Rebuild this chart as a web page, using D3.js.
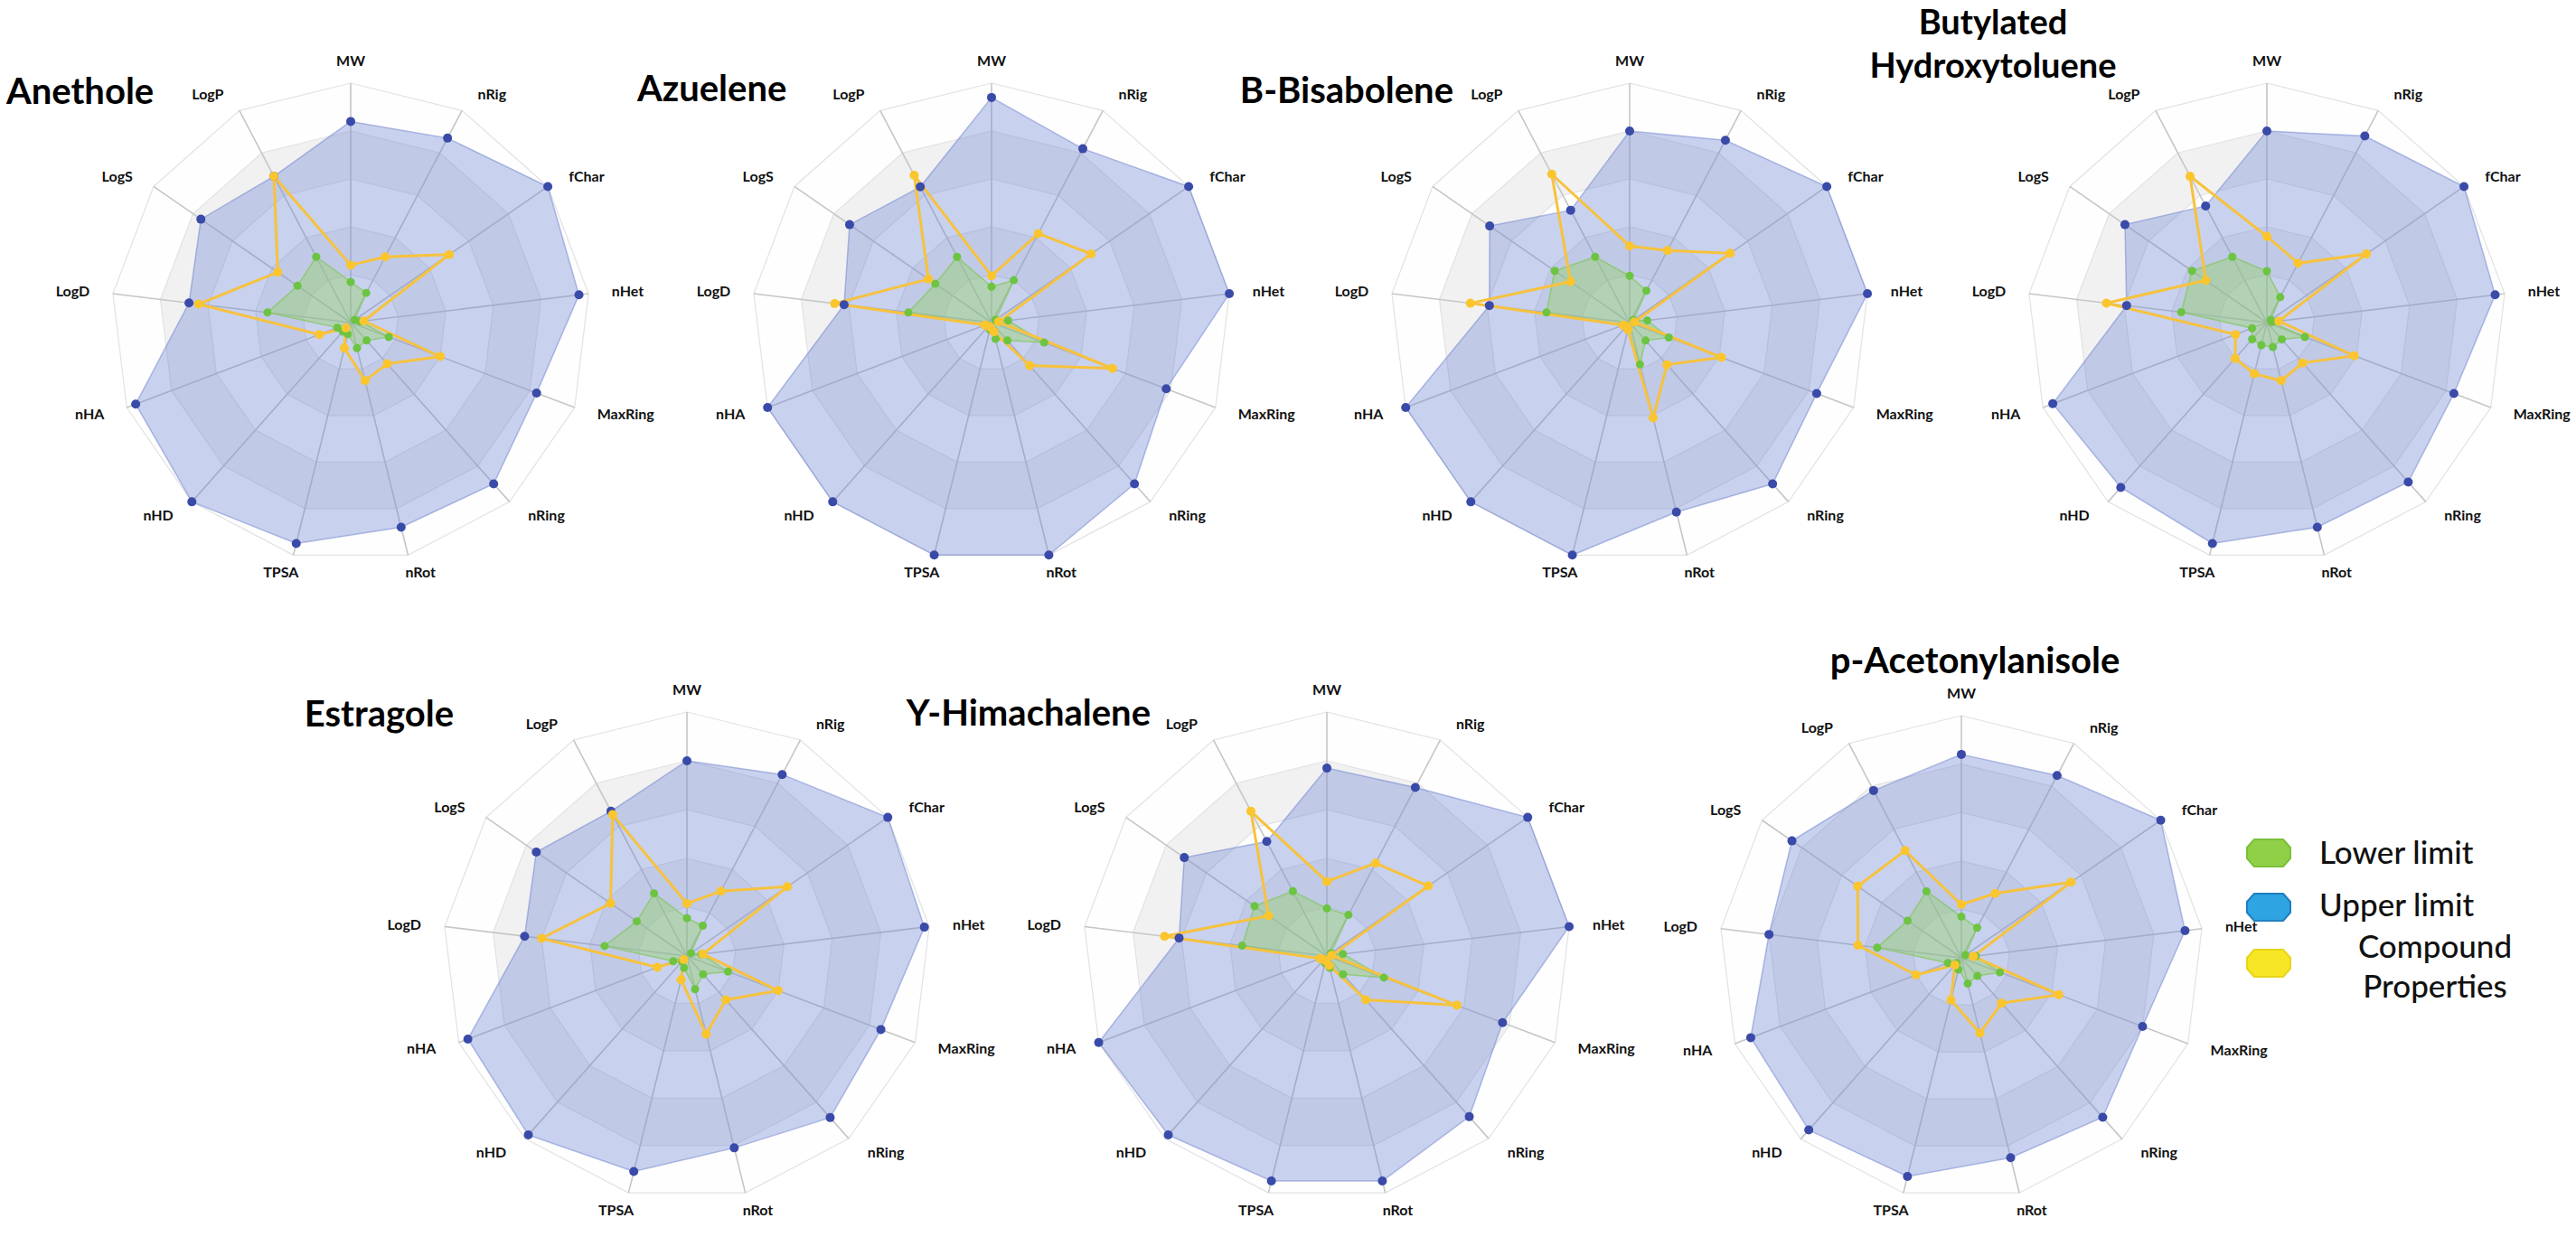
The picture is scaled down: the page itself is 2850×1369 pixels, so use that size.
<!DOCTYPE html>
<html>
<head>
<meta charset="utf-8">
<script src="https://cdn.jsdelivr.net/npm/d3@7"></script>
<style>
  body { margin: 0; background: #fff; }
  svg { display: block; }
</style>
</head>
<body>
<div id="chart"></div>
<script>
'use strict';

// radar axes, clockwise from the top
const axes = ['MW', 'nRig', 'fChar', 'nHet', 'MaxRing', 'nRing', 'nRot',
              'TPSA', 'nHD', 'nHA', 'LogD', 'LogS', 'LogP'];

// values, as a fraction of the outer ring
const anetholeUpper    = [0.84, 0.87, 1.00, 0.96, 0.83, 0.90, 0.88, 0.95, 1.00, 0.96, 0.68, 0.76, 0.69];
const anetholeLower    = [0.17, 0.14, 0.02, 0.04, 0.17, 0.10, 0.11, 0.05, 0.05, 0.06, 0.35, 0.27, 0.31];
const anetholeCompound = [0.24, 0.31, 0.50, 0.055, 0.40, 0.23, 0.25, 0.11, 0.03, 0.14, 0.64, 0.37, 0.69];

const azueleneUpper    = [0.94, 0.82, 1.00, 1.00, 0.78, 0.90, 1.00, 1.00, 1.00, 1.00, 0.62, 0.72, 0.64];
const azueleneLower    = [0.15, 0.20, 0.02, 0.07, 0.235, 0.10, 0.07, 0.03, 0.02, 0.03, 0.35, 0.285, 0.31];
const azueleneCompound = [0.195, 0.42, 0.505, 0.03, 0.54, 0.24, 0.04, 0.02, 0.02, 0.03, 0.66, 0.32, 0.695];

const bisaboleneUpper    = [0.80, 0.86, 1.00, 1.00, 0.835, 0.90, 0.815, 1.00, 1.00, 1.00, 0.59, 0.71, 0.53];
const bisaboleneLower    = [0.195, 0.15, 0.02, 0.074, 0.175, 0.10, 0.18, 0.03, 0.02, 0.03, 0.35, 0.38, 0.31];
const bisaboleneCompound = [0.32, 0.34, 0.51, 0.02, 0.41, 0.235, 0.41, 0.03, 0.02, 0.03, 0.67, 0.30, 0.70];

const bhtUpper    = [0.80, 0.88, 1.00, 0.96, 0.835, 0.89, 0.88, 0.95, 0.92, 0.956, 0.59, 0.72, 0.55];
const bhtLower    = [0.215, 0.12, 0.02, 0.02, 0.17, 0.094, 0.105, 0.097, 0.093, 0.066, 0.36, 0.38, 0.31];
const bhtCompound = [0.36, 0.28, 0.505, 0.05, 0.39, 0.225, 0.25, 0.22, 0.20, 0.14, 0.675, 0.31, 0.69];

const estragoleUpper    = [0.80, 0.84, 1.00, 0.98, 0.85, 0.885, 0.81, 0.91, 0.98, 0.96, 0.67, 0.75, 0.67];
const estragoleLower    = [0.155, 0.14, 0.02, 0.06, 0.18, 0.10, 0.14, 0.05, 0.03, 0.06, 0.34, 0.25, 0.29];
const estragoleCompound = [0.215, 0.30, 0.50, 0.066, 0.40, 0.24, 0.33, 0.10, 0.02, 0.13, 0.60, 0.38, 0.655];

const himachaleneUpper    = [0.77, 0.78, 1.00, 1.00, 0.77, 0.88, 0.95, 0.95, 0.98, 1.00, 0.61, 0.71, 0.53];
const himachaleneLower    = [0.195, 0.19, 0.02, 0.066, 0.25, 0.10, 0.05, 0.03, 0.02, 0.03, 0.35, 0.36, 0.30];
const himachaleneCompound = [0.305, 0.43, 0.505, 0.02, 0.57, 0.24, 0.04, 0.02, 0.02, 0.03, 0.67, 0.29, 0.67];

const acetonylanisoleUpper    = [0.84, 0.85, 1.00, 0.93, 0.80, 0.88, 0.85, 0.93, 0.95, 0.93, 0.80, 0.85, 0.78];
const acetonylanisoleLower    = [0.17, 0.14, 0.02, 0.06, 0.17, 0.10, 0.11, 0.05, 0.03, 0.06, 0.35, 0.27, 0.31];
const acetonylanisoleCompound = [0.22, 0.30, 0.55, 0.05, 0.43, 0.25, 0.32, 0.18, 0.04, 0.20, 0.43, 0.52, 0.50];

const titles = [
    ['Anethole'], ['Azuelene'], ['B-Bisabolene'], ['Butylated', 'Hydroxytoluene'],
    ['Estragole'], ['Y-Himachalene'], ['p-Acetonylanisole']
];

const legendLabels = [['Lower limit'], ['Upper limit'], ['Compound', 'Properties']];

const series = [
    [anetholeUpper, anetholeLower, anetholeCompound],
    [azueleneUpper, azueleneLower, azueleneCompound],
    [bisaboleneUpper, bisaboleneLower, bisaboleneCompound],
    [bhtUpper, bhtLower, bhtCompound],
    [estragoleUpper, estragoleLower, estragoleCompound],
    [himachaleneUpper, himachaleneLower, himachaleneCompound],
    [acetonylanisoleUpper, acetonylanisoleLower, acetonylanisoleCompound]
];

// where each radar sits and where its title goes
const layout = [
    {cx: 388,  cy: 357,  r: 265, tx: 7,    ty: [115],    anchor: 'start'},
    {cx: 1097, cy: 357,  r: 265, tx: 705,  ty: [112],    anchor: 'start'},
    {cx: 1803, cy: 357,  r: 265, tx: 1608, ty: [114],    anchor: 'end'},
    {cx: 2508, cy: 357,  r: 265, tx: 2205, ty: [38, 86], anchor: 'middle'},
    {cx: 760,  cy: 1058, r: 270, tx: 502,  ty: [804],    anchor: 'end'},
    {cx: 1468, cy: 1058, r: 270, tx: 1273, ty: [803],    anchor: 'end'},
    {cx: 2170, cy: 1060, r: 268, tx: 2185, ty: [745],    anchor: 'middle'}
];

const W = 2850, H = 1369;
const step = 2 * Math.PI / axes.length;

const svg = d3.select('#chart').append('svg')
    .attr('width', W)
    .attr('height', H);

svg.append('rect').attr('width', W).attr('height', H).attr('fill', '#fff');


function drawRadar(g, data, pos) {
    const rScale = d3.scaleLinear().domain([0, 1]).range([0, pos.r]);
    const ring = d3.lineRadial()
        .angle((v, i) => i * step)
        .radius(v => rScale(v))
        .curve(d3.curveLinearClosed);
    const px = (v, i) => rScale(v) * Math.sin(i * step);
    const py = (v, i) => -rScale(v) * Math.cos(i * step);

    // split areas, outside first
    const levels = [1, 0.8, 0.6, 0.4, 0.2];
    g.selectAll('path.band').data(levels).join('path')
        .attr('class', 'band')
        .attr('d', v => ring(axes.map(() => v)))
        .attr('fill', (v, i) => i % 2 === 0 ? '#fefefe' : '#f1f1f2')
        .attr('stroke', '#e2e2e4')
        .attr('stroke-width', 1.2);

    g.selectAll('line.axis').data(axes).join('line')
        .attr('class', 'axis')
        .attr('x1', 0).attr('y1', 0)
        .attr('x2', (a, i) => px(1, i))
        .attr('y2', (a, i) => py(1, i))
        .attr('stroke', '#c6c6c6')
        .attr('stroke-width', 1.6);

    const [upper, lower, compound] = data;

    g.append('path')
        .attr('d', ring(upper))
        .attr('fill', 'rgba(100,125,210,0.35)')
        .attr('stroke', 'rgba(110,130,205,0.5)')
        .attr('stroke-width', 1.5);

    g.append('path')
        .attr('d', ring(lower))
        .attr('fill', 'rgba(150,208,110,0.45)')
        .attr('stroke', 'rgba(130,200,90,0.7)')
        .attr('stroke-width', 1.5);

    g.append('path')
        .attr('d', ring(compound))
        .attr('fill', 'none')
        .attr('stroke', '#f7c23c')
        .attr('stroke-width', 3);

    const dots = [
        {vals: upper, color: '#3a4aa8', r: 5},
        {vals: lower, color: '#6cc441', r: 4.5},
        {vals: compound, color: '#fbc52e', r: 5}
    ];
    dots.forEach(s => {
        g.append('g').selectAll('circle').data(s.vals).join('circle')
            .attr('cx', px)
            .attr('cy', py)
            .attr('r', s.r)
            .attr('fill', s.color);
    });

    // axis names
    g.selectAll('text.name').data(axes).join('text')
        .attr('class', 'name')
        .attr('x', (a, i) => {
            const s = Math.sin(i * step);
            const side = Math.abs(s) < 0.05 ? 0 : Math.sign(s);
            return rScale(1.06) * s + side * 10;
        })
        .attr('y', (a, i) => {
            const c = Math.cos(i * step);
            return -(pos.r + (c > 0.9 ? 25 : 20)) * c;
        })
        .attr('dy', '0.35em')
        .attr('text-anchor', (a, i) => {
            const s = Math.sin(i * step);
            if (Math.abs(s) < 0.3) return 'middle';
            return s > 0 ? 'start' : 'end';
        })
        .attr('font-family', 'Lato, sans-serif')
        .attr('font-weight', 700)
        .attr('font-size', 16)
        .attr('fill', '#111')
        .text(a => a);
}


series.forEach((data, k) => {
    const pos = layout[k];
    const g = svg.append('g').attr('transform', `translate(${pos.cx},${pos.cy})`);
    drawRadar(g, data, pos);

    // one text per title line
    titles[k].forEach((line, j) => {
        svg.append('text')
            .attr('x', pos.tx)
            .attr('y', pos.ty[j])
            .attr('text-anchor', pos.anchor)
            .attr('font-family', 'Lato, sans-serif')
            .attr('font-weight', 700)
            .attr('font-size', titles[k].length > 1 ? 38 : 40)
            .attr('fill', '#000')
            .text(line);
    });
});


// legend
const legendColors = [
    {fill: '#8fd046', stroke: '#7cc03a'},
    {fill: '#2ea4e2', stroke: '#1f7fc0'},
    {fill: '#f6e626', stroke: '#e8d51a'}
];
const blobY = [944, 1004, 1066];
const textY = [[944], [1002], [1048, 1092]];
const blob = 'M-16,-15 L16,-15 L24,-6 L24,6 L16,15 L-16,15 L-24,6 L-24,-6 Z';

const legend = svg.append('g');
legendLabels.forEach((lines, i) => {
    legend.append('path')
        .attr('d', blob)
        .attr('transform', `translate(2510,${blobY[i]})`)
        .attr('fill', legendColors[i].fill)
        .attr('stroke', legendColors[i].stroke)
        .attr('stroke-width', 2)
        .attr('stroke-linejoin', 'round');
    lines.forEach((line, j) => {
        legend.append('text')
            .attr('x', lines.length === 1 ? 2566 : 2694)
            .attr('y', textY[i][j])
            .attr('dy', '0.35em')
            .attr('text-anchor', lines.length === 1 ? 'start' : 'middle')
            .attr('font-family', 'Lato, sans-serif')
            .attr('font-weight', 500)
            .attr('font-size', 35)
            .attr('fill', '#111')
            .text(line);
    });
});
</script>
</body>
</html>
